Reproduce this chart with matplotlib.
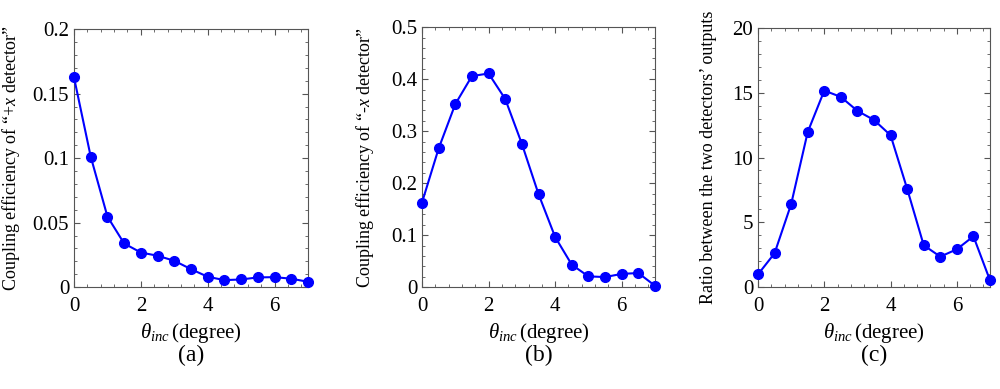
import matplotlib
matplotlib.use("Agg")
import matplotlib.pyplot as plt
from matplotlib.ticker import AutoMinorLocator, MultipleLocator

# -----------------------
# DATA
# -----------------------
theta = [0, 0.5, 1, 1.5, 2, 2.5, 3, 3.5, 4, 4.5, 5, 5.5, 6, 6.5, 7]
plus_x = [0.1626, 0.1012, 0.0547, 0.0338, 0.0268, 0.0243, 0.0204, 0.0139,
          0.0080, 0.0054, 0.0059, 0.0075, 0.0077, 0.0065, 0.0041]
minus_x = [0.1626, 0.2667, 0.352, 0.406, 0.411, 0.362, 0.2757, 0.179,
           0.0964, 0.043, 0.0206, 0.0193, 0.0254, 0.027, 0.0026]
ratio = [0.98, 2.61, 6.40, 11.97, 15.17, 14.68, 13.6, 12.9,
         11.72, 7.59, 3.23, 2.35, 2.92, 3.92, 0.52]

# -----------------------
# STYLE
# -----------------------
plt.rcParams["font.family"] = ["Liberation Serif", "DejaVu Serif"]
plt.rcParams["mathtext.fontset"] = "custom"
plt.rcParams["mathtext.rm"] = "Liberation Serif"
plt.rcParams["mathtext.it"] = "Liberation Serif:italic"

fig = plt.figure(figsize=(10, 3.89), dpi=100)

panels = [
    ([0.074, 0.262, 0.234, 0.663], plus_x, 0.2, 0.05,
     "Coupling efficiency of \u201c+$x$ detector\u201d", "(a)", 0.022),
    ([0.422, 0.262, 0.233, 0.668], minus_x, 0.5, 0.1,
     "Coupling efficiency of \u201c-$x$ detector\u201d", "(b)", 0.376),
    ([0.758, 0.262, 0.232, 0.666], ratio, 20, 5,
     "Ratio between the two detectors\u2019 outputs", "(c)", 0.717),
]

for rect, vals, ymax, ystep, ylab, tag, ylab_x in panels:
    ax = fig.add_axes(rect)
    ax.plot(theta, vals, color="#0000ff", lw=1.5, marker="o", ms=7,
            clip_on=False, zorder=3)
    ax.set_xlim(0, 7)
    ax.set_ylim(0, ymax)
    ax.xaxis.set_major_locator(MultipleLocator(2))
    ax.yaxis.set_major_locator(MultipleLocator(ystep))
    ax.xaxis.set_minor_locator(AutoMinorLocator(5))
    ax.yaxis.set_minor_locator(AutoMinorLocator(5))
    ax.tick_params(which="both", direction="in", top=True, right=True,
                   colors="#555555", labelcolor="black", labelsize=15)
    ax.tick_params(which="major", length=4, width=0.8)
    ax.tick_params(axis="x", which="major", pad=7)
    ax.tick_params(which="minor", length=2, width=0.6)
    for s in ax.spines.values():
        s.set_color("#555555")
        s.set_linewidth(0.8)
    ax.yaxis.set_major_formatter(
        plt.FuncFormatter(lambda v, p: "0" if v == 0 else f"{v:g}"))
    ax.set_xlabel(r"$\theta_{inc}\,$(degree)", fontsize=15, labelpad=4)
    ax.set_ylabel(ylab, fontsize=13)
    ax.yaxis.set_label_coords(ylab_x, rect[1] + rect[3] / 2,
                              transform=fig.transFigure)
    cx = rect[0] + rect[2] / 2
    fig.text(cx, 0.085, tag, ha="center", va="center", fontsize=17)

fig.savefig("out.png", dpi=100)
